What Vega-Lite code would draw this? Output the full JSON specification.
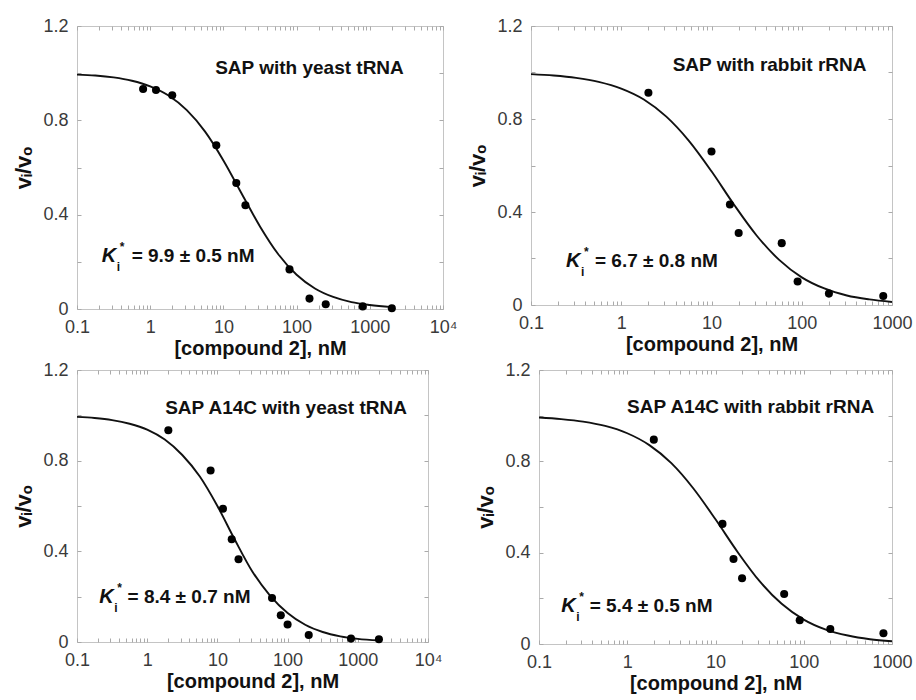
{
  "$schema": "https://vega.github.io/schema/vega-lite/v6.json",
  "padding": {"left": 12, "top": 16, "right": 5, "bottom": 5},
  "background": "white",
  "config": {
    "font": "Liberation Sans",
    "view": {"stroke": "#c4c4c4", "strokeWidth": 1},
    "axis": {"grid": false, "domain": false, "labelFont": "Liberation Sans", "labelFontSize": 18, "labelColor": "#3a3a3a", "titleFont": "Liberation Sans", "titleFontSize": 20, "titleFontWeight": "bold", "titleColor": "#111", "tickColor": "#aaa", "tickSize": -4, "labelFlush": false, "labelOverlap": false},
    "axisLeft": {"titleFontSize": 22},
    "text": {"font": "Liberation Sans"}
  },
  "datasets": {
    "p1": [{"x":0.8,"y":0.933},{"x":1.2,"y":0.929},{"x":2,"y":0.906},{"x":8,"y":0.694},{"x":15,"y":0.534},{"x":20,"y":0.44},{"x":80,"y":0.168},{"x":150,"y":0.044},{"x":250,"y":0.02},{"x":800,"y":0.011},{"x":2000,"y":0.003}],
    "p2": [{"x":2,"y":0.913},{"x":10,"y":0.66},{"x":16,"y":0.432},{"x":20,"y":0.31},{"x":60,"y":0.266},{"x":90,"y":0.101},{"x":200,"y":0.049},{"x":800,"y":0.039}],
    "p3": [{"x":2,"y":0.934},{"x":8,"y":0.757},{"x":12,"y":0.588},{"x":16,"y":0.453},{"x":20,"y":0.365},{"x":60,"y":0.194},{"x":80,"y":0.118},{"x":100,"y":0.077},{"x":200,"y":0.031},{"x":800,"y":0.015},{"x":2000,"y":0.012}],
    "p4": [{"x":2,"y":0.895},{"x":12,"y":0.526},{"x":16,"y":0.372},{"x":20,"y":0.288},{"x":60,"y":0.219},{"x":90,"y":0.104},{"x":200,"y":0.066},{"x":800,"y":0.047}],
    "f1": [{"x":0.1,"y":0.994},{"x":0.178,"y":0.99},{"x":0.316,"y":0.982},{"x":0.562,"y":0.968},{"x":1,"y":0.944},{"x":1.78,"y":0.905},{"x":3.16,"y":0.843},{"x":5.62,"y":0.752},{"x":10,"y":0.63},{"x":17.8,"y":0.489},{"x":31.6,"y":0.35},{"x":56.2,"y":0.232},{"x":100,"y":0.145},{"x":178,"y":0.087},{"x":316,"y":0.051},{"x":562,"y":0.029},{"x":1000,"y":0.017},{"x":2000,"y":0.008}],
    "f2": [{"x":0.1,"y":0.993},{"x":0.178,"y":0.987},{"x":0.316,"y":0.977},{"x":0.562,"y":0.96},{"x":1,"y":0.931},{"x":1.78,"y":0.884},{"x":3.16,"y":0.81},{"x":5.62,"y":0.706},{"x":10,"y":0.575},{"x":17.8,"y":0.431},{"x":31.6,"y":0.299},{"x":56.2,"y":0.194},{"x":100,"y":0.119},{"x":178,"y":0.071},{"x":316,"y":0.041},{"x":562,"y":0.024},{"x":1000,"y":0.013}],
    "f3": [{"x":0.1,"y":0.993},{"x":0.178,"y":0.988},{"x":0.316,"y":0.979},{"x":0.562,"y":0.963},{"x":1,"y":0.937},{"x":1.78,"y":0.893},{"x":3.16,"y":0.825},{"x":5.62,"y":0.73},{"x":10,"y":0.6},{"x":17.8,"y":0.45},{"x":31.6,"y":0.31},{"x":56.2,"y":0.205},{"x":100,"y":0.128},{"x":178,"y":0.076},{"x":316,"y":0.044},{"x":562,"y":0.025},{"x":1000,"y":0.014},{"x":2000,"y":0.007}],
    "f4": [{"x":0.1,"y":0.992},{"x":0.178,"y":0.985},{"x":0.316,"y":0.974},{"x":0.562,"y":0.955},{"x":1,"y":0.923},{"x":1.78,"y":0.871},{"x":3.16,"y":0.792},{"x":5.62,"y":0.681},{"x":10,"y":0.546},{"x":17.8,"y":0.403},{"x":31.6,"y":0.275},{"x":56.2,"y":0.176},{"x":100,"y":0.107},{"x":178,"y":0.063},{"x":316,"y":0.037},{"x":562,"y":0.021},{"x":1000,"y":0.012}],
    "a1": [{"tx":150,"ty":1.023,"title":"SAP with yeast tRNA","kx":0.217,"ky":0.223,"rx":0.558,"rest":"= 9.9 ± 0.5 nM"}],
    "a2": [{"tx":44,"ty":1.031,"title":"SAP with rabbit rRNA","kx":0.244,"ky":0.188,"rx":0.511,"rest":"= 6.7 ± 0.8 nM"}],
    "a3": [{"tx":95,"ty":1.034,"title":"SAP A14C with yeast tRNA","kx":0.207,"ky":0.2,"rx":0.525,"rest":"= 8.4 ± 0.7 nM"}],
    "a4": [{"tx":25,"ty":1.037,"title":"SAP A14C with rabbit rRNA","kx":0.179,"ky":0.168,"rx":0.375,"rest":"= 5.4 ± 0.5 nM"}]
  },
  "spacing": 1,
  "vconcat": [
    {
      "spacing": 88,
      "bounds": "flush",
      "hconcat": [
        {
          "width": 366, "height": 283,
          "layer": [
            {"data": {"name": "f1"}, "mark": {"type": "line", "color": "#111", "strokeWidth": 1.9, "interpolate": "monotone"},
             "encoding": {
               "x": {"field": "x", "type": "quantitative", "scale": {"type": "log", "domain": [0.1, 10000], "nice": false}, "axis": {"orient": "top", "values": [0.1,0.2,0.3,0.4,0.5,0.6,0.7,0.8,0.9,1,2,3,4,5,6,7,8,9,10,20,30,40,50,60,70,80,90,100,200,300,400,500,600,700,800,900,1000,2000,3000,4000,5000,6000,7000,8000,9000,10000], "labels": false, "title": null}},
               "y": {"field": "y", "type": "quantitative", "scale": {"domain": [0, 1.2], "nice": false, "zero": false}, "axis": {"orient": "right", "values": [0,0.2,0.4,0.6,0.8,1,1.2], "labels": false, "title": null}}}},
            {"data": {"name": "p1"}, "mark": {"type": "circle", "color": "#000", "size": 65, "opacity": 1},
             "encoding": {
               "x": {"field": "x", "type": "quantitative", "scale": {"type": "log", "domain": [0.1, 10000], "nice": false}, "axis": {"orient": "bottom", "values": [0.1,0.2,0.3,0.4,0.5,0.6,0.7,0.8,0.9,1,2,3,4,5,6,7,8,9,10,20,30,40,50,60,70,80,90,100,200,300,400,500,600,700,800,900,1000,2000,3000,4000,5000,6000,7000,8000,9000,10000], "format": "~g", "labelExpr": "datum.value === 10000 ? '10⁴' : (indexof([0.1,1,10,100,1000], datum.value) >= 0 ? datum.label : '')", "title": "[compound 2], nM", "labelPadding": 13, "titlePadding": 2}},
               "y": {"field": "y", "type": "quantitative", "scale": {"domain": [0, 1.2], "nice": false, "zero": false}, "axis": {"orient": "left", "values": [0,0.2,0.4,0.6,0.8,1,1.2], "format": "~g", "labelExpr": "indexof([0,0.4,0.8,1.2], datum.value) >= 0 ? datum.label : ''", "title": "vᵢ/vₒ", "labelPadding": 13, "titlePadding": 7}}}},
            {"data": {"name": "a1"}, "mark": {"type": "text", "fontSize": 19, "fontWeight": "bold", "color": "#111", "align": "center", "baseline": "middle"},
             "encoding": {"x": {"field": "tx", "type": "quantitative", "scale": {"type": "log", "domain": [0.1, 10000], "nice": false}, "axis": null}, "y": {"field": "ty", "type": "quantitative", "scale": {"domain": [0, 1.2], "nice": false, "zero": false}, "axis": null}, "text": {"field": "title"}}},
            {"data": {"name": "a1"}, "mark": {"type": "text", "fontSize": 20, "fontWeight": "bold", "fontStyle": "italic", "color": "#111", "align": "left", "baseline": "middle"},
             "encoding": {"x": {"field": "kx", "type": "quantitative", "scale": {"type": "log", "domain": [0.1, 10000], "nice": false}, "axis": null}, "y": {"field": "ky", "type": "quantitative", "scale": {"domain": [0, 1.2], "nice": false, "zero": false}, "axis": null}, "text": {"value": "K"}}},
            {"data": {"name": "a1"}, "mark": {"type": "text", "fontSize": 12, "fontWeight": "bold", "color": "#111", "align": "left", "baseline": "middle", "dx": 15, "dy": 11},
             "encoding": {"x": {"field": "kx", "type": "quantitative", "scale": {"type": "log", "domain": [0.1, 10000], "nice": false}, "axis": null}, "y": {"field": "ky", "type": "quantitative", "scale": {"domain": [0, 1.2], "nice": false, "zero": false}, "axis": null}, "text": {"value": "i"}}},
            {"data": {"name": "a1"}, "mark": {"type": "text", "fontSize": 12, "fontWeight": "bold", "color": "#111", "align": "left", "baseline": "middle", "dx": 18, "dy": -9},
             "encoding": {"x": {"field": "kx", "type": "quantitative", "scale": {"type": "log", "domain": [0.1, 10000], "nice": false}, "axis": null}, "y": {"field": "ky", "type": "quantitative", "scale": {"domain": [0, 1.2], "nice": false, "zero": false}, "axis": null}, "text": {"value": "*"}}},
            {"data": {"name": "a1"}, "mark": {"type": "text", "fontSize": 19, "fontWeight": "bold", "color": "#111", "align": "left", "baseline": "middle"},
             "encoding": {"x": {"field": "rx", "type": "quantitative", "scale": {"type": "log", "domain": [0.1, 10000], "nice": false}, "axis": null}, "y": {"field": "ky", "type": "quantitative", "scale": {"domain": [0, 1.2], "nice": false, "zero": false}, "axis": null}, "text": {"field": "rest"}}}
          ]
        },
        {
          "width": 361, "height": 279,
          "layer": [
            {"data": {"name": "f2"}, "mark": {"type": "line", "color": "#111", "strokeWidth": 1.9, "interpolate": "monotone"},
             "encoding": {
               "x": {"field": "x", "type": "quantitative", "scale": {"type": "log", "domain": [0.1, 1000], "nice": false}, "axis": {"orient": "top", "values": [0.1,0.2,0.3,0.4,0.5,0.6,0.7,0.8,0.9,1,2,3,4,5,6,7,8,9,10,20,30,40,50,60,70,80,90,100,200,300,400,500,600,700,800,900,1000], "labels": false, "title": null}},
               "y": {"field": "y", "type": "quantitative", "scale": {"domain": [0, 1.2], "nice": false, "zero": false}, "axis": {"orient": "right", "values": [0,0.2,0.4,0.6,0.8,1,1.2], "labels": false, "title": null}}}},
            {"data": {"name": "p2"}, "mark": {"type": "circle", "color": "#000", "size": 65, "opacity": 1},
             "encoding": {
               "x": {"field": "x", "type": "quantitative", "scale": {"type": "log", "domain": [0.1, 1000], "nice": false}, "axis": {"orient": "bottom", "values": [0.1,0.2,0.3,0.4,0.5,0.6,0.7,0.8,0.9,1,2,3,4,5,6,7,8,9,10,20,30,40,50,60,70,80,90,100,200,300,400,500,600,700,800,900,1000], "format": "~g", "labelExpr": "indexof([0.1,1,10,100,1000], datum.value) >= 0 ? datum.label : ''", "title": "[compound 2], nM", "labelPadding": 13, "titlePadding": 2}},
               "y": {"field": "y", "type": "quantitative", "scale": {"domain": [0, 1.2], "nice": false, "zero": false}, "axis": {"orient": "left", "values": [0,0.2,0.4,0.6,0.8,1,1.2], "format": "~g", "labelExpr": "indexof([0,0.4,0.8,1.2], datum.value) >= 0 ? datum.label : ''", "title": "vᵢ/vₒ", "labelPadding": 13, "titlePadding": 7}}}},
            {"data": {"name": "a2"}, "mark": {"type": "text", "fontSize": 19, "fontWeight": "bold", "color": "#111", "align": "center", "baseline": "middle"},
             "encoding": {"x": {"field": "tx", "type": "quantitative", "scale": {"type": "log", "domain": [0.1, 1000], "nice": false}, "axis": null}, "y": {"field": "ty", "type": "quantitative", "scale": {"domain": [0, 1.2], "nice": false, "zero": false}, "axis": null}, "text": {"field": "title"}}},
            {"data": {"name": "a2"}, "mark": {"type": "text", "fontSize": 20, "fontWeight": "bold", "fontStyle": "italic", "color": "#111", "align": "left", "baseline": "middle"},
             "encoding": {"x": {"field": "kx", "type": "quantitative", "scale": {"type": "log", "domain": [0.1, 1000], "nice": false}, "axis": null}, "y": {"field": "ky", "type": "quantitative", "scale": {"domain": [0, 1.2], "nice": false, "zero": false}, "axis": null}, "text": {"value": "K"}}},
            {"data": {"name": "a2"}, "mark": {"type": "text", "fontSize": 12, "fontWeight": "bold", "color": "#111", "align": "left", "baseline": "middle", "dx": 15, "dy": 11},
             "encoding": {"x": {"field": "kx", "type": "quantitative", "scale": {"type": "log", "domain": [0.1, 1000], "nice": false}, "axis": null}, "y": {"field": "ky", "type": "quantitative", "scale": {"domain": [0, 1.2], "nice": false, "zero": false}, "axis": null}, "text": {"value": "i"}}},
            {"data": {"name": "a2"}, "mark": {"type": "text", "fontSize": 12, "fontWeight": "bold", "color": "#111", "align": "left", "baseline": "middle", "dx": 18, "dy": -9},
             "encoding": {"x": {"field": "kx", "type": "quantitative", "scale": {"type": "log", "domain": [0.1, 1000], "nice": false}, "axis": null}, "y": {"field": "ky", "type": "quantitative", "scale": {"domain": [0, 1.2], "nice": false, "zero": false}, "axis": null}, "text": {"value": "*"}}},
            {"data": {"name": "a2"}, "mark": {"type": "text", "fontSize": 19, "fontWeight": "bold", "color": "#111", "align": "left", "baseline": "middle"},
             "encoding": {"x": {"field": "rx", "type": "quantitative", "scale": {"type": "log", "domain": [0.1, 1000], "nice": false}, "axis": null}, "y": {"field": "ky", "type": "quantitative", "scale": {"domain": [0, 1.2], "nice": false, "zero": false}, "axis": null}, "text": {"field": "rest"}}}
          ]
        }
      ]
    },
    {
      "spacing": 111,
      "bounds": "flush",
      "hconcat": [
        {
          "width": 351, "height": 272,
          "layer": [
            {"data": {"name": "f3"}, "mark": {"type": "line", "color": "#111", "strokeWidth": 1.9, "interpolate": "monotone"},
             "encoding": {
               "x": {"field": "x", "type": "quantitative", "scale": {"type": "log", "domain": [0.1, 10000], "nice": false}, "axis": {"orient": "top", "values": [0.1,0.2,0.3,0.4,0.5,0.6,0.7,0.8,0.9,1,2,3,4,5,6,7,8,9,10,20,30,40,50,60,70,80,90,100,200,300,400,500,600,700,800,900,1000,2000,3000,4000,5000,6000,7000,8000,9000,10000], "labels": false, "title": null}},
               "y": {"field": "y", "type": "quantitative", "scale": {"domain": [0, 1.2], "nice": false, "zero": false}, "axis": {"orient": "right", "values": [0,0.2,0.4,0.6,0.8,1,1.2], "labels": false, "title": null}}}},
            {"data": {"name": "p3"}, "mark": {"type": "circle", "color": "#000", "size": 65, "opacity": 1},
             "encoding": {
               "x": {"field": "x", "type": "quantitative", "scale": {"type": "log", "domain": [0.1, 10000], "nice": false}, "axis": {"orient": "bottom", "values": [0.1,0.2,0.3,0.4,0.5,0.6,0.7,0.8,0.9,1,2,3,4,5,6,7,8,9,10,20,30,40,50,60,70,80,90,100,200,300,400,500,600,700,800,900,1000,2000,3000,4000,5000,6000,7000,8000,9000,10000], "format": "~g", "labelExpr": "datum.value === 10000 ? '10⁴' : (indexof([0.1,1,10,100,1000], datum.value) >= 0 ? datum.label : '')", "title": "[compound 2], nM", "labelPadding": 13, "titlePadding": 2}},
               "y": {"field": "y", "type": "quantitative", "scale": {"domain": [0, 1.2], "nice": false, "zero": false}, "axis": {"orient": "left", "values": [0,0.2,0.4,0.6,0.8,1,1.2], "format": "~g", "labelExpr": "indexof([0,0.4,0.8,1.2], datum.value) >= 0 ? datum.label : ''", "title": "vᵢ/vₒ", "labelPadding": 13, "titlePadding": 7}}}},
            {"data": {"name": "a3"}, "mark": {"type": "text", "fontSize": 19, "fontWeight": "bold", "color": "#111", "align": "center", "baseline": "middle"},
             "encoding": {"x": {"field": "tx", "type": "quantitative", "scale": {"type": "log", "domain": [0.1, 10000], "nice": false}, "axis": null}, "y": {"field": "ty", "type": "quantitative", "scale": {"domain": [0, 1.2], "nice": false, "zero": false}, "axis": null}, "text": {"field": "title"}}},
            {"data": {"name": "a3"}, "mark": {"type": "text", "fontSize": 20, "fontWeight": "bold", "fontStyle": "italic", "color": "#111", "align": "left", "baseline": "middle"},
             "encoding": {"x": {"field": "kx", "type": "quantitative", "scale": {"type": "log", "domain": [0.1, 10000], "nice": false}, "axis": null}, "y": {"field": "ky", "type": "quantitative", "scale": {"domain": [0, 1.2], "nice": false, "zero": false}, "axis": null}, "text": {"value": "K"}}},
            {"data": {"name": "a3"}, "mark": {"type": "text", "fontSize": 12, "fontWeight": "bold", "color": "#111", "align": "left", "baseline": "middle", "dx": 15, "dy": 11},
             "encoding": {"x": {"field": "kx", "type": "quantitative", "scale": {"type": "log", "domain": [0.1, 10000], "nice": false}, "axis": null}, "y": {"field": "ky", "type": "quantitative", "scale": {"domain": [0, 1.2], "nice": false, "zero": false}, "axis": null}, "text": {"value": "i"}}},
            {"data": {"name": "a3"}, "mark": {"type": "text", "fontSize": 12, "fontWeight": "bold", "color": "#111", "align": "left", "baseline": "middle", "dx": 18, "dy": -9},
             "encoding": {"x": {"field": "kx", "type": "quantitative", "scale": {"type": "log", "domain": [0.1, 10000], "nice": false}, "axis": null}, "y": {"field": "ky", "type": "quantitative", "scale": {"domain": [0, 1.2], "nice": false, "zero": false}, "axis": null}, "text": {"value": "*"}}},
            {"data": {"name": "a3"}, "mark": {"type": "text", "fontSize": 19, "fontWeight": "bold", "color": "#111", "align": "left", "baseline": "middle"},
             "encoding": {"x": {"field": "rx", "type": "quantitative", "scale": {"type": "log", "domain": [0.1, 10000], "nice": false}, "axis": null}, "y": {"field": "ky", "type": "quantitative", "scale": {"domain": [0, 1.2], "nice": false, "zero": false}, "axis": null}, "text": {"field": "rest"}}}
          ]
        },
        {
          "width": 353, "height": 274,
          "layer": [
            {"data": {"name": "f4"}, "mark": {"type": "line", "color": "#111", "strokeWidth": 1.9, "interpolate": "monotone"},
             "encoding": {
               "x": {"field": "x", "type": "quantitative", "scale": {"type": "log", "domain": [0.1, 1000], "nice": false}, "axis": {"orient": "top", "values": [0.1,0.2,0.3,0.4,0.5,0.6,0.7,0.8,0.9,1,2,3,4,5,6,7,8,9,10,20,30,40,50,60,70,80,90,100,200,300,400,500,600,700,800,900,1000], "labels": false, "title": null}},
               "y": {"field": "y", "type": "quantitative", "scale": {"domain": [0, 1.2], "nice": false, "zero": false}, "axis": {"orient": "right", "values": [0,0.2,0.4,0.6,0.8,1,1.2], "labels": false, "title": null}}}},
            {"data": {"name": "p4"}, "mark": {"type": "circle", "color": "#000", "size": 65, "opacity": 1},
             "encoding": {
               "x": {"field": "x", "type": "quantitative", "scale": {"type": "log", "domain": [0.1, 1000], "nice": false}, "axis": {"orient": "bottom", "values": [0.1,0.2,0.3,0.4,0.5,0.6,0.7,0.8,0.9,1,2,3,4,5,6,7,8,9,10,20,30,40,50,60,70,80,90,100,200,300,400,500,600,700,800,900,1000], "format": "~g", "labelExpr": "indexof([0.1,1,10,100,1000], datum.value) >= 0 ? datum.label : ''", "title": "[compound 2], nM", "labelPadding": 13, "titlePadding": 2}},
               "y": {"field": "y", "type": "quantitative", "scale": {"domain": [0, 1.2], "nice": false, "zero": false}, "axis": {"orient": "left", "values": [0,0.2,0.4,0.6,0.8,1,1.2], "format": "~g", "labelExpr": "indexof([0,0.4,0.8,1.2], datum.value) >= 0 ? datum.label : ''", "title": "vᵢ/vₒ", "labelPadding": 13, "titlePadding": 7}}}},
            {"data": {"name": "a4"}, "mark": {"type": "text", "fontSize": 19, "fontWeight": "bold", "color": "#111", "align": "center", "baseline": "middle"},
             "encoding": {"x": {"field": "tx", "type": "quantitative", "scale": {"type": "log", "domain": [0.1, 1000], "nice": false}, "axis": null}, "y": {"field": "ty", "type": "quantitative", "scale": {"domain": [0, 1.2], "nice": false, "zero": false}, "axis": null}, "text": {"field": "title"}}},
            {"data": {"name": "a4"}, "mark": {"type": "text", "fontSize": 20, "fontWeight": "bold", "fontStyle": "italic", "color": "#111", "align": "left", "baseline": "middle"},
             "encoding": {"x": {"field": "kx", "type": "quantitative", "scale": {"type": "log", "domain": [0.1, 1000], "nice": false}, "axis": null}, "y": {"field": "ky", "type": "quantitative", "scale": {"domain": [0, 1.2], "nice": false, "zero": false}, "axis": null}, "text": {"value": "K"}}},
            {"data": {"name": "a4"}, "mark": {"type": "text", "fontSize": 12, "fontWeight": "bold", "color": "#111", "align": "left", "baseline": "middle", "dx": 15, "dy": 11},
             "encoding": {"x": {"field": "kx", "type": "quantitative", "scale": {"type": "log", "domain": [0.1, 1000], "nice": false}, "axis": null}, "y": {"field": "ky", "type": "quantitative", "scale": {"domain": [0, 1.2], "nice": false, "zero": false}, "axis": null}, "text": {"value": "i"}}},
            {"data": {"name": "a4"}, "mark": {"type": "text", "fontSize": 12, "fontWeight": "bold", "color": "#111", "align": "left", "baseline": "middle", "dx": 18, "dy": -9},
             "encoding": {"x": {"field": "kx", "type": "quantitative", "scale": {"type": "log", "domain": [0.1, 1000], "nice": false}, "axis": null}, "y": {"field": "ky", "type": "quantitative", "scale": {"domain": [0, 1.2], "nice": false, "zero": false}, "axis": null}, "text": {"value": "*"}}},
            {"data": {"name": "a4"}, "mark": {"type": "text", "fontSize": 19, "fontWeight": "bold", "color": "#111", "align": "left", "baseline": "middle"},
             "encoding": {"x": {"field": "rx", "type": "quantitative", "scale": {"type": "log", "domain": [0.1, 1000], "nice": false}, "axis": null}, "y": {"field": "ky", "type": "quantitative", "scale": {"domain": [0, 1.2], "nice": false, "zero": false}, "axis": null}, "text": {"field": "rest"}}}
          ]
        }
      ]
    }
  ]
}
